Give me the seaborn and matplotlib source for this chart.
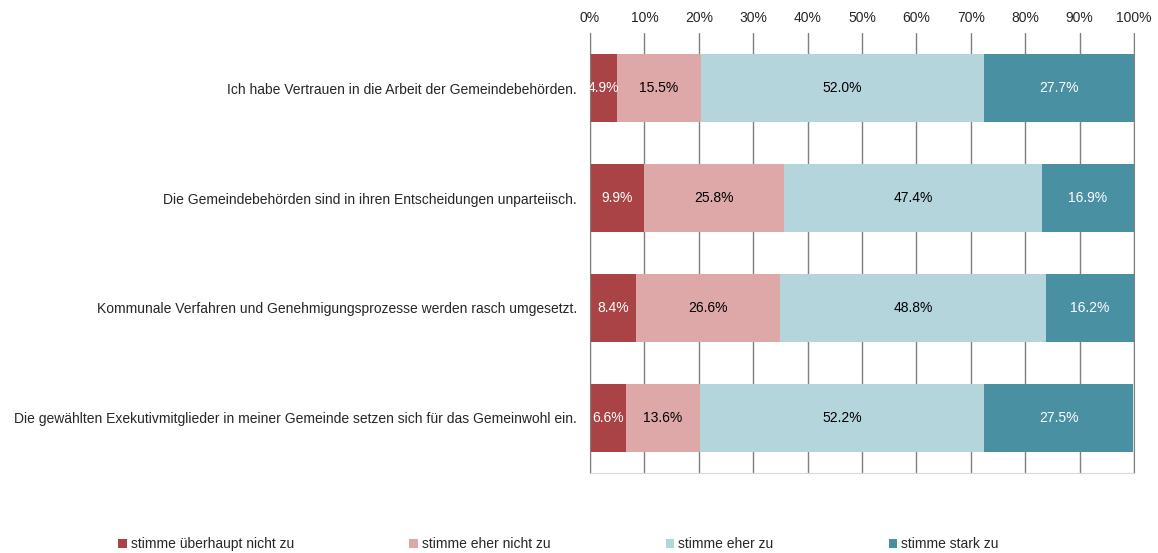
import pandas as pd
import matplotlib
matplotlib.use('Agg')
import matplotlib.pyplot as plt
import seaborn as sns
from matplotlib.patches import Patch

statements = [
    'Ich habe Vertrauen in die Arbeit der Gemeindebehörden.',
    'Die Gemeindebehörden sind in ihren Entscheidungen unparteiisch.',
    'Kommunale Verfahren und Genehmigungsprozesse werden rasch umgesetzt.',
    'Die gewählten Exekutivmitglieder in meiner Gemeinde setzen sich für das Gemeinwohl ein.',
]
categories = ['stimme überhaupt nicht zu', 'stimme eher nicht zu', 'stimme eher zu', 'stimme stark zu']
overhaupt_nicht = [4.9, 9.9, 8.4, 6.6]
eher_nicht = [15.5, 25.8, 26.6, 13.6]
eher_zu = [52.0, 47.4, 48.8, 52.2]
stark_zu = [27.7, 16.9, 16.2, 27.5]

colors = ['#A94345', '#DFA8A8', '#B5D5DC', '#4A90A3']
label_colors = ['white', 'black', 'black', 'white']

sns.set_style('white')
plt.rcParams['font.family'] = ['Liberation Sans', 'DejaVu Sans']
fs = 10

df = pd.DataFrame({'statement': statements,
                   categories[0]: overhaupt_nicht,
                   categories[1]: eher_nicht,
                   categories[2]: eher_zu,
                   categories[3]: stark_zu})
cum = df[categories].cumsum(axis=1)

fig = plt.figure(figsize=(11.58, 5.53), dpi=100)
ax = fig.add_axes([0.5095, 0.1447, 0.4698, 0.7956])

# draw cumulative bars from the back so they look stacked
for i in range(len(categories) - 1, -1, -1):
    sns.barplot(x=cum[categories[i]], y=df['statement'], color=colors[i],
                orient='h', width=0.62, ax=ax, saturation=1, zorder=2,
                linewidth=0, edgecolor='none')

# segment labels
for j in range(len(df)):
    start = 0
    for i, cat in enumerate(categories):
        v = df.loc[j, cat]
        ax.text(start + v / 2, j, f'{v:.1f}%', ha='center', va='center',
                fontsize=fs, color=label_colors[i], zorder=5)
        start += v

ax.set_xlim(0, 100)
ax.set_ylim(3.5, -0.5)
ax.set_xticks(range(0, 101, 10))
ax.set_xticklabels([f'{t}%' for t in range(0, 101, 10)], fontsize=fs)
ax.xaxis.tick_top()
ax.tick_params(axis='x', length=0, pad=6)
ax.tick_params(axis='y', length=0, pad=9.4, labelsize=fs)
ax.set_xlabel('')
ax.set_ylabel('')
ax.grid(axis='x', color='#7f7f7f', linewidth=1, zorder=0)
ax.set_axisbelow(True)
ax.spines['top'].set_visible(False)
ax.spines['left'].set_color('#7f7f7f')
ax.spines['right'].set_color('#7f7f7f')
ax.spines['bottom'].set_color('#d9d9d9')

handles = [Patch(facecolor=c, edgecolor='none') for c in colors]
fig.legend(handles, categories, loc='center left', bbox_to_anchor=(0.0915, 0.016),
           ncol=4, frameon=False, fontsize=fs, handlelength=0.6, handleheight=0.6,
           handletextpad=0.3, columnspacing=8.3)

fig.savefig('out.png', dpi=100)
